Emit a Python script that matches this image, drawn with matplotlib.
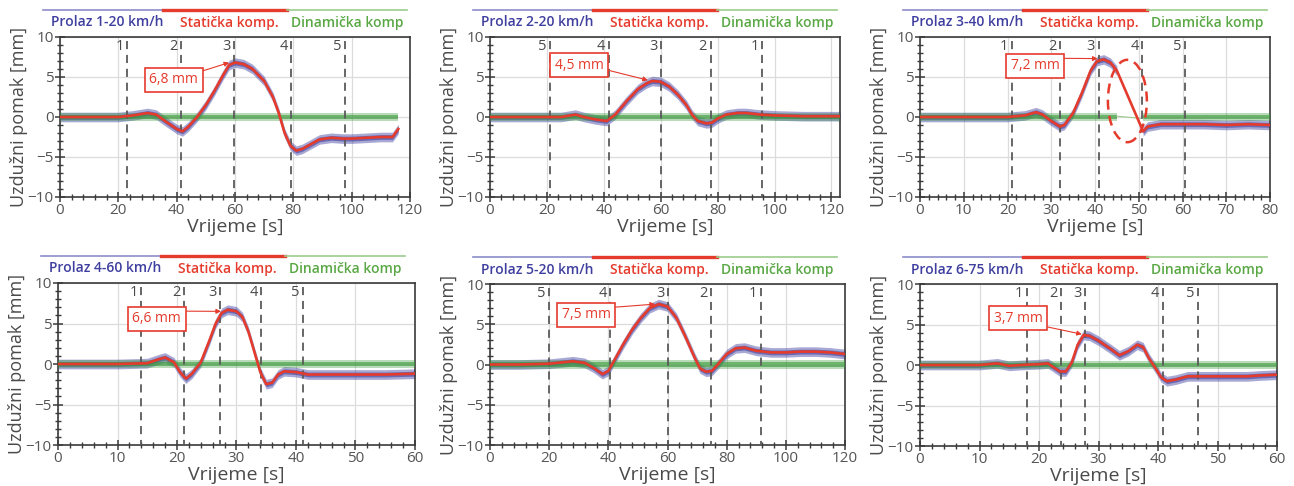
import matplotlib
matplotlib.use('Agg')
import matplotlib.pyplot as plt
import numpy as np
from matplotlib.patches import Ellipse
from matplotlib.ticker import MultipleLocator

plt.rcParams['font.family'] = ['Open Sans', 'DejaVu Sans']

W, H = 1294, 486

# ---------------- data ----------------
series_names = ["Prolaz 1-20 km/h", "Prolaz 2-20 km/h", "Prolaz 3-40 km/h",
                "Prolaz 4-60 km/h", "Prolaz 5-20 km/h", "Prolaz 6-75 km/h"]
legend_static = "Statička komp."
legend_dynamic = "Dinamička komp"

# static component (red)
p1_x = [0, 10, 20, 25, 30, 33, 36, 40, 42, 44, 47, 50, 53, 56, 58, 60, 63, 66, 70, 73, 75, 77, 79, 81, 83, 86, 89, 93, 97, 100, 105, 110, 114, 116]
p1_y = [0, 0, 0, 0.2, 0.5, 0.3, -0.5, -1.5, -1.8, -1.2, 0, 1.5, 3.3, 5.3, 6.5, 6.8, 6.6, 6.0, 4.5, 2.5, 0.5, -2.0, -3.6, -4.2, -4.0, -3.4, -2.8, -2.6, -2.7, -2.7, -2.6, -2.5, -2.5, -1.5]

p2_x = [0, 10, 20, 25, 30, 33, 37, 41, 44, 48, 52, 55, 57, 60, 63, 66, 69, 71, 73, 76, 78, 80, 83, 87, 90, 95, 100, 110, 123]
p2_y = [0, 0, 0, 0, 0.3, 0, -0.3, -0.5, 0.3, 2.0, 3.5, 4.2, 4.5, 4.4, 3.8, 2.8, 1.5, 0.3, -0.5, -0.8, -0.7, -0.2, 0.3, 0.5, 0.5, 0.3, 0.2, 0.1, 0.1]

p3_x = [0, 10, 20, 24, 26.5, 28, 30, 32, 33, 35, 37, 39, 40.5, 42, 43.5, 45, 51, 52, 55, 60, 65, 70, 75, 80]
p3_y = [0, 0, 0, 0.2, 0.6, 0.3, -0.5, -1.2, -1.0, 0.5, 3.0, 5.8, 7.0, 7.2, 6.8, 5.8, -1.8, -1.2, -0.9, -0.9, -0.9, -1.0, -0.9, -1.0]

p4_x = [0, 10, 15, 17, 18, 19.5, 20.5, 21.5, 22.5, 24, 25.5, 26.5, 27.5, 28.5, 30, 31, 32, 33, 34, 35, 36, 37, 38, 40, 42, 45, 50, 55, 60]
p4_y = [0, 0, 0.1, 0.6, 0.8, 0.2, -1.0, -1.8, -1.2, 0.2, 3.0, 5.0, 6.3, 6.7, 6.5, 5.8, 4.0, 1.5, -1.0, -2.5, -2.3, -1.3, -0.9, -1.0, -1.3, -1.3, -1.3, -1.3, -1.2]

p5_x = [0, 10, 20, 28, 32, 35, 38, 40, 42, 45, 48, 51, 54, 57, 60, 63, 66, 69, 71, 73, 75, 77, 80, 83, 86, 90, 95, 100, 105, 110, 115, 120]
p5_y = [0, 0, 0.1, 0.4, 0.2, -0.4, -1.2, -0.8, 0.5, 2.5, 4.3, 5.8, 7.0, 7.5, 7.2, 5.8, 3.5, 1.0, -0.5, -0.9, -0.8, 0.0, 1.3, 2.0, 2.1, 1.7, 1.5, 1.5, 1.6, 1.6, 1.5, 1.3]

p6_x = [0, 5, 10, 13, 15, 17, 20, 21.5, 22.5, 23.5, 24.5, 25.5, 26.5, 27.5, 28.5, 30, 32, 33.5, 35, 36.5, 37.5, 38.5, 39.5, 40.5, 41.5, 43, 45, 48, 50, 55, 57, 60]
p6_y = [0, 0, 0, 0.2, -0.1, 0, 0.1, 0.2, -0.3, -0.8, -0.8, 0.3, 2.5, 3.7, 3.6, 3.0, 2.0, 1.2, 1.7, 2.5, 2.2, 0.8, -0.3, -1.5, -2.0, -1.8, -1.4, -1.4, -1.4, -1.4, -1.3, -1.2]

static_x = [p1_x, p2_x, p3_x, p4_x, p5_x, p6_x]
static_y = [p1_y, p2_y, p3_y, p4_y, p5_y, p6_y]

# measurement gaps (no raw / dynamic data)
gaps = [None, None, (45, 51), None, None, None]

# vertical markers (axle positions)
marker_x = [[23, 41.5, 59.8, 79.3, 97.8],
            [21, 41.8, 60.2, 77.5, 95.7],
            [21, 32, 40.8, 50.8, 60.6],
            [14, 21.2, 27.2, 34.2, 41.2],
            [20, 40.6, 60.2, 74.8, 91.6],
            [17.9, 23.7, 27.8, 40.8, 46.7]]
marker_labels = [["1", "2", "3", "4", "5"],
                 ["5", "4", "3", "2", "1"],
                 ["1", "2", "3", "4", "5"],
                 ["1", "2", "3", "4", "5"],
                 ["5", "4", "3", "2", "1"],
                 ["1", "2", "3", "4", "5"]]

peak_labels = ["6,8 mm", "4,5 mm", "7,2 mm", "6,6 mm", "7,5 mm", "3,7 mm"]
peak_points = [(58, 6.8), (55.5, 4.6), (40.6, 7.3), (27.4, 6.5), (55.8, 7.5), (27.2, 3.8)]

# ---------------- layout / style ----------------
x_limits = [(0, 120), (0, 123), (0, 80), (0, 60), (0, 120), (0, 60)]
x_major = [20, 20, 10, 10, 20, 10]
x_minor = [4, 4, 2, 2, 4, 2]
box_centers = [(39, 4.65), (31.4, 6.45), (26.3, 6.4), (16.6, 5.6), (32.5, 6.15), (16.5, 5.75)]
arrow_relpos = [(1, 1), (1, 0.25), (1, 1), (1, 1), (1, 1), (1, 0)]

# axes rectangles in pixels: left, top, right, bottom
rects_px = [(60, 37, 410, 197), (490, 37, 840, 197), (920, 37, 1270, 197),
            (58, 283, 415, 445), (490, 284, 845, 445), (920, 284, 1277, 446)]

BLUE = '#3f3fa0'
BLUE_LIGHT = '#8c8cc8'
RED = '#e53b2d'
GREEN = '#3a9a3a'
GREEN_LIGHT = '#9ccc8c'
GREEN_TEXT = '#5aa845'
TXT = '#4a4a4a'

fig = plt.figure(figsize=(W / 100, H / 100), dpi=100)

for i in range(6):
    l, t, r, b = rects_px[i]
    ax = fig.add_axes([l / W, 1 - b / H, (r - l) / W, (b - t) / H])
    x = np.array(static_x[i], dtype=float)
    y = np.array(static_y[i], dtype=float)

    if gaps[i] is not None:
        g0, g1 = gaps[i]
        mask_a = x <= g0
        mask_b = x >= g1
        segs = [(x[mask_a], y[mask_a]), (x[mask_b], y[mask_b])]
    else:
        segs = [(x, y)]

    # raw signal envelope (blue) and dynamic component (green)
    for sx, sy in segs:
        ax.fill_between(sx, sy - 0.6, sy + 0.6, color=BLUE, alpha=0.45, lw=0, zorder=2)
        ax.fill_between(sx, sy - 0.3, sy + 0.3, color=BLUE, alpha=0.6, lw=0, zorder=2)
        ax.fill_between([sx[0], sx[-1]], [-0.5, -0.5], [0.5, 0.5], color=GREEN, alpha=0.35, lw=0, zorder=3)
        ax.fill_between([sx[0], sx[-1]], [-0.25, -0.25], [0.25, 0.25], color=GREEN, alpha=0.6, lw=0, zorder=3)
    if gaps[i] is not None:
        ax.plot([gaps[i][0], gaps[i][1]], [0.1, -0.2], color=GREEN_LIGHT, lw=0.8, zorder=3)

    ax.plot(x, y, color=RED, lw=1.9, zorder=5)

    # markers
    for mx, ml in zip(marker_x[i], marker_labels[i]):
        ax.plot([mx, mx], [9.5, -10], color='#5a5a5a', lw=1.3, dashes=(4.5, 3.2), zorder=4)
        ax.annotate(ml, xy=(mx, 8.85), xytext=(-2.5, 0), textcoords='offset points',
                    ha='right', va='center', fontsize=10.5, color=TXT, zorder=6)

    # peak annotation
    ax.annotate(peak_labels[i], xy=peak_points[i], xytext=box_centers[i],
                ha='center', va='center', fontsize=10, color=RED, zorder=7,
                bbox=dict(boxstyle='square,pad=0.32', fc='white', ec=RED, lw=1.2),
                arrowprops=dict(arrowstyle='-|>', color=RED, lw=0.8, mutation_scale=7,
                                shrinkA=0, shrinkB=0, relpos=arrow_relpos[i]))

    if i == 2:
        ax.add_patch(Ellipse((47.4, 2.0), 8.9, 10.3, fill=False, ec=RED, lw=1.8,
                             ls=(0, (4, 2.5)), zorder=6))

    ax.set_xlim(*x_limits[i])
    ax.set_ylim(-10, 10)
    ax.xaxis.set_major_locator(MultipleLocator(x_major[i]))
    ax.xaxis.set_minor_locator(MultipleLocator(x_minor[i]))
    ax.yaxis.set_major_locator(MultipleLocator(5))
    ax.yaxis.set_minor_locator(MultipleLocator(1))
    ax.grid(True, which='major', color='#dcdcdc', lw=0.9, zorder=0)
    ax.set_axisbelow(True)
    for s in ax.spines.values():
        s.set_color('#3a3a3a')
        s.set_linewidth(1.2)
    ax.tick_params(which='major', direction='inout', length=7, width=1.1, color='#3a3a3a',
                   labelsize=11, labelcolor='#555555', pad=1)
    ax.tick_params(which='minor', direction='inout', length=4, width=1.0, color='#3a3a3a')
    ax.set_xlabel('Vrijeme [s]', fontsize=14, color=TXT, labelpad=0)
    ax.set_ylabel('Uzdužni pomak [mm]', fontsize=13, color=TXT, labelpad=0)

    # legend strip above the axes
    wpx = r - l
    x_a = -17 / wpx
    x_b = x_a + 120 / wpx
    x_c = x_b + 124 / wpx
    x_d = x_c + 120 / wpx
    ly = 1 + 27 / (b - t)
    ty = 1 + 14.5 / (b - t)
    tr = ax.transAxes
    ax.plot([x_a, x_b], [ly, ly], color=BLUE_LIGHT, lw=1.2, transform=tr, clip_on=False)
    ax.plot([x_b, x_c], [ly, ly], color=RED, lw=2.4, transform=tr, clip_on=False)
    ax.plot([x_c, x_d], [ly, ly], color=GREEN_LIGHT, lw=1.2, transform=tr, clip_on=False)
    ax.text((x_a + x_b) / 2 + 4 / wpx, ty, series_names[i], transform=tr, ha='center', va='center',
            fontsize=10, fontweight='semibold', color=BLUE)
    ax.text((x_b + x_c) / 2 + 4 / wpx, ty, legend_static, transform=tr, ha='center', va='center',
            fontsize=10, fontweight='semibold', color=RED)
    ax.text((x_c + x_d) / 2, ty, legend_dynamic, transform=tr, ha='center', va='center',
            fontsize=10, fontweight='semibold', color=GREEN_TEXT)

fig.savefig('out.png', dpi=100, facecolor='white')
